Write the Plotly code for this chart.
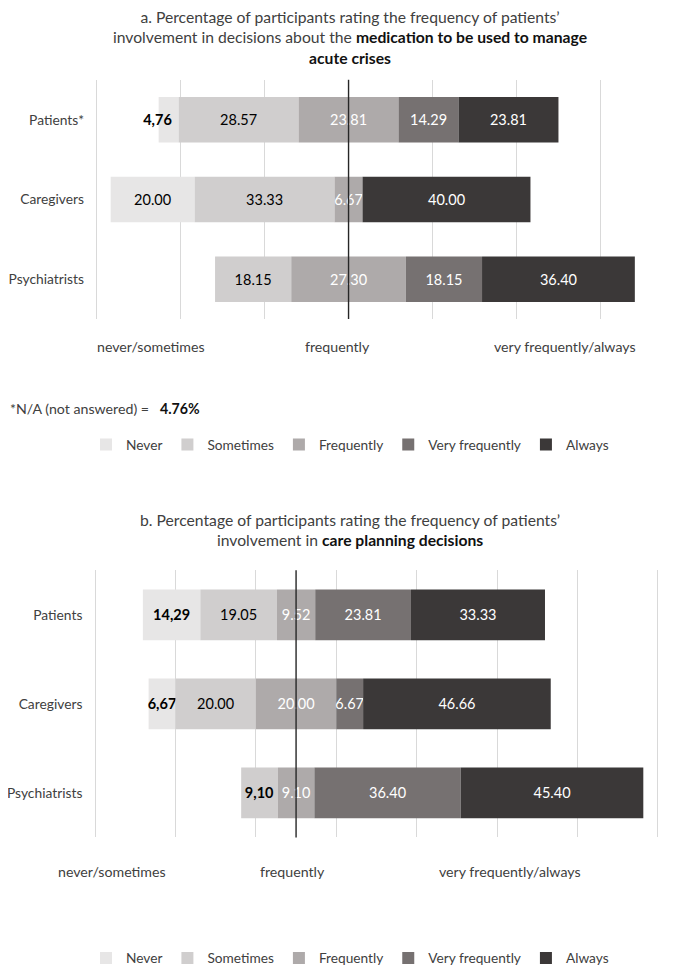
import plotly.graph_objects as go

# ---------------- data ----------------
levels = ["Never", "Sometimes", "Frequently", "Very frequently", "Always"]

categories_a = ["Patients*", "Caregivers", "Psychiatrists"]
a_never = [4.76, 20.00, 0.0]
a_sometimes = [28.57, 33.33, 18.15]
a_frequently = [23.81, 6.67, 27.30]
a_very_frequently = [14.29, 0.0, 18.15]
a_always = [23.81, 40.00, 36.40]

categories_b = ["Patients", "Caregivers", "Psychiatrists"]
b_never = [14.29, 6.67, 0.0]
b_sometimes = [19.05, 20.00, 9.10]
b_frequently = [9.52, 20.00, 9.10]
b_very_frequently = [23.81, 6.67, 36.40]
b_always = [33.33, 46.66, 45.40]

group_labels = ["never/sometimes", "frequently", "very frequently/always"]
group_pos_a = [-47.1, -2.6, 51.5]
group_pos_b = [-45.9, -1.0, 53.2]

na_value = 4.76

# ---------------- style ----------------
OFF = 8                      # default page margin around the figure
W, H = 693 - 2 * OFF, 974 - OFF
FONT = "Lato, 'Liberation Sans', sans-serif"
FS_VAL = 14.5
FS_CAT = 13.8
FS_TITLE = 15.7
FS_GROUP = 14.2
FS_LEG = 13.7
colors = ["#E7E6E6", "#D0CECE", "#AEAAAA", "#767171", "#3B3838"]
text_colors = ["#000000", "#000000", "#FFFFFF", "#FFFFFF", "#FFFFFF"]
grey_text = "#404040"
# cells written in bold with a decimal comma (series index, category index)
bold_a = {(0, 0)}
bold_b = {(0, 0), (0, 1), (1, 2)}
pad_a = {(0, 0)}  # label shifted left of its short segment


def fmt(v, bold, pad):
    if v == 0:
        return ""
    s = f"{v:.2f}"
    if bold:
        s = "<b>" + s.replace(".", ",") + "</b>"
    if pad:
        s = s + "&nbsp;" * 6
    return s


def px(x):
    return (x - OFF) / W


def py(y):
    return 1 - (y - OFF) / H


fig = go.Figure()


def add_chart(series, cats, xa, ya, legend, bold, pad):
    n = len(cats)
    starts = [-(series[0][i] + series[1][i] + series[2][i] / 2) for i in range(n)]
    cum = starts[:]
    for k, vals in enumerate(series):
        bases = cum[:]
        labels = [fmt(vals[i], (k, i) in bold, (k, i) in pad) for i in range(n)]
        fig.add_trace(go.Bar(
            y=cats, x=vals, base=bases, orientation="h", width=0.57,
            name=levels[k], marker=dict(color=colors[k], line=dict(width=0)),
            text=labels, textposition="inside", insidetextanchor="middle",
            textangle=0, constraintext="none",
            textfont=dict(family=FONT, size=FS_VAL, color=text_colors[k]),
            xaxis=xa, yaxis=ya, legend=legend, hoverinfo="x+name",
        ))
        cum = [cum[i] + vals[i] for i in range(n)]


add_chart([a_never, a_sometimes, a_frequently, a_very_frequently, a_always],
          categories_a, "x", "y", "legend", bold_a, pad_a)
add_chart([b_never, b_sometimes, b_frequently, b_very_frequently, b_always],
          categories_b, "x2", "y2", "legend2", bold_b, set())

xcommon = dict(tickmode="linear", dtick=20, showticklabels=False, showgrid=True,
               gridcolor="#D9D9D9", gridwidth=1, zeroline=False, showline=False,
               ticks="", fixedrange=True)
ycommon = dict(type="category", showgrid=False, zeroline=False, showline=False,
               ticks="", ticklabelstandoff=10,
               tickfont=dict(family=FONT, size=FS_CAT, color=grey_text), fixedrange=True)

legend_common = dict(orientation="h", x=px(350), xanchor="center", yanchor="middle",
                     font=dict(family=FONT, size=FS_LEG, color=grey_text),
                     bgcolor="rgba(0,0,0,0)", traceorder="normal")

fig.update_layout(
    width=W, height=H, margin=dict(l=0, r=0, t=0, b=0),
    paper_bgcolor="white", plot_bgcolor="white",
    barmode="overlay",
    font=dict(family=FONT, size=FS_VAL, color=grey_text),
    xaxis=dict(domain=[px(95.0), px(685.0)], range=[-60.4, 80.15], tick0=0,
               anchor="y", **xcommon),
    yaxis=dict(domain=[py(320), py(80)], range=[2.5, -0.5], anchor="x",
               categoryorder="array", categoryarray=categories_a, **ycommon),
    xaxis2=dict(domain=[px(93.4), px(659.6)], range=[-50.4, 90.4], tick0=-50,
                anchor="y2", **xcommon),
    yaxis2=dict(domain=[py(840), py(572)], range=[2.5, -0.5], anchor="x2",
                categoryorder="array", categoryarray=categories_b, **ycommon),
    legend=dict(y=py(446), **legend_common),
    legend2=dict(y=py(961), **legend_common),
    showlegend=True,
)

# center (neutral) lines
for xr, yr in (("x", "y domain"), ("x2", "y2 domain")):
    fig.add_shape(type="line", xref=xr, yref=yr, x0=0, x1=0, y0=0, y1=1,
                  line=dict(color="#262626", width=1.4), layer="above")

B = '<span style="font-weight:bold;color:#111111">'
E = "</span>"
fig.add_annotation(
    text="a. Percentage of participants rating the frequency of patients’<br>"
         "involvement in decisions about the " + B + "medication to be used to manage" + E +
         "<br>" + B + "acute crises" + E,
    xref="paper", yref="paper", x=px(350), y=py(38), xanchor="center", yanchor="middle",
    showarrow=False, align="center", font=dict(family=FONT, size=FS_TITLE, color=grey_text))
fig.add_annotation(
    text="b. Percentage of participants rating the frequency of patients’<br>"
         "involvement in " + B + "care planning decisions" + E,
    xref="paper", yref="paper", x=px(350), y=py(531.7), xanchor="center", yanchor="middle",
    showarrow=False, align="center", font=dict(family=FONT, size=FS_TITLE, color=grey_text))

for lab, xa in zip(group_labels, group_pos_a):
    fig.add_annotation(text=lab, xref="x", yref="paper", x=xa, y=py(348),
                       xanchor="center", yanchor="middle", showarrow=False,
                       font=dict(family=FONT, size=FS_GROUP, color=grey_text))
for lab, xb in zip(group_labels, group_pos_b):
    fig.add_annotation(text=lab, xref="x2", yref="paper", x=xb, y=py(874),
                       xanchor="center", yanchor="middle", showarrow=False,
                       font=dict(family=FONT, size=FS_GROUP, color=grey_text))

fig.add_annotation(
    text="*N/A (not answered) = &nbsp;&nbsp;" + B + f"{na_value:.2f}%" + E,
    xref="paper", yref="paper", x=px(8), y=py(410), xanchor="left", yanchor="middle",
    showarrow=False, font=dict(family=FONT, size=FS_GROUP, color=grey_text))

fig.write_html("out.html")
